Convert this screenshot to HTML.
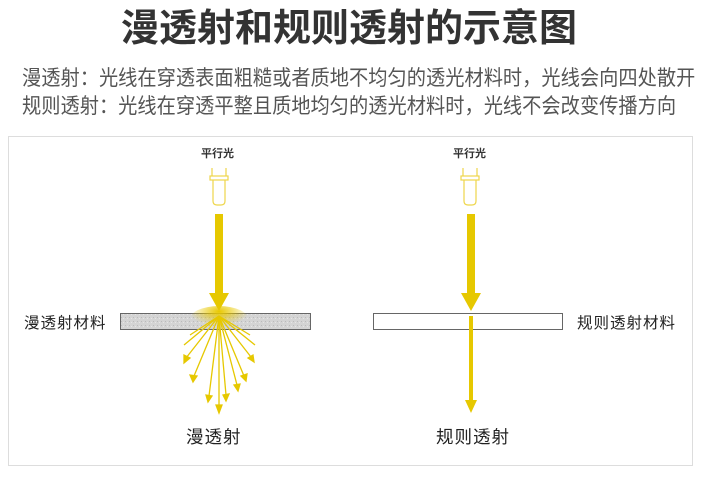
<!DOCTYPE html>
<html><head><meta charset="utf-8"><style>
html,body{margin:0;padding:0;background:#fff;}
body{width:710px;height:483px;position:relative;overflow:hidden;font-family:"Liberation Sans","Noto Sans CJK SC",sans-serif;}
.t{position:absolute;white-space:nowrap;}
.s{transform:scaleX(0.925);transform-origin:0 0;}
</style></head><body>
<div class="t" style="left:0;width:698px;text-align:center;top:6px;font-size:38px;font-weight:bold;color:#333;line-height:46px;">漫透射和规则透射的示意图</div>
<div class="t s" style="left:22px;top:66px;font-size:20.8px;color:#555;line-height:26px;">漫透射：光线在穿透表面粗糙或者质地不均匀的透光材料时，光线会向四处散开</div>
<div class="t s" style="left:22px;top:94px;font-size:20.8px;color:#555;line-height:26px;">规则透射：光线在穿透平整且质地均匀的透光材料时，光线不会改变传播方向</div>
<svg width="710" height="483" style="position:absolute;left:0;top:0" xmlns="http://www.w3.org/2000/svg">
<defs>
<radialGradient id="g" cx="0.5" cy="0.2" r="0.5">
<stop offset="0" stop-color="#e8c800" stop-opacity="1"/>
<stop offset="1" stop-color="#e8c800" stop-opacity="0"/>
</radialGradient>
<pattern id="n" width="4" height="4" patternUnits="userSpaceOnUse">
<rect width="4" height="4" fill="#d4d4d4"/><rect x="1" y="1" width="1" height="1" fill="#bbb"/><rect x="3" y="2" width="1" height="1" fill="#e6e6e6"/>
</pattern>
</defs>
<rect x="8.5" y="136.5" width="684" height="329" fill="none" stroke="#ddd"/>
<g stroke="#eed64a" stroke-width="1.2" fill="none">
<line x1="212" y1="168" x2="212" y2="176"/><line x1="226" y1="168" x2="226" y2="176"/>
<rect x="210" y="176" width="18" height="4"/>
<path d="M213 180 V201 Q213 205 217 205 H221 Q225 205 225 201 V180"/>
<line x1="463" y1="168" x2="463" y2="176"/><line x1="477" y1="168" x2="477" y2="176"/>
<rect x="461" y="176" width="18" height="4"/>
<path d="M464 180 V201 Q464 205 468 205 H472 Q476 205 476 201 V180"/>
</g>
<rect x="215" y="214" width="8" height="80" fill="#e6c800"/>
<polygon points="209,293 229,293 219,311" fill="#e6c800"/>
<rect x="120.5" y="313.5" width="190" height="16" fill="url(#n)" stroke="#666"/>
<ellipse cx="219" cy="320" rx="30" ry="14" fill="url(#g)"/>
<g stroke="#e6c800" stroke-width="1.3" fill="#e6c800">
<line x1="219" y1="316" x2="186" y2="358"/><polygon points="184,363 184,355 190,358"/>
<line x1="219" y1="316" x2="194" y2="376"/><polygon points="193,382 190,375 197,376"/>
<line x1="219" y1="316" x2="209" y2="396"/><polygon points="208,402 206,395 212,396"/>
<line x1="219" y1="316" x2="219" y2="406"/><polygon points="219,413 216,405 222,405"/>
<line x1="219" y1="316" x2="226" y2="395"/><polygon points="226,401 223,395 229,394"/>
<line x1="219" y1="316" x2="237" y2="385"/><polygon points="238,391 234,385 240,384"/>
<line x1="219" y1="316" x2="244" y2="376"/><polygon points="246,381 241,376 247,374"/>
<line x1="219" y1="316" x2="251" y2="357"/><polygon points="254,362 248,358 253,355"/>
<line x1="219" y1="316" x2="184" y2="345"/><line x1="219" y1="316" x2="255" y2="345"/>
<line x1="219" y1="316" x2="190" y2="335"/><line x1="219" y1="316" x2="250" y2="335"/>
</g>
<rect x="467" y="214" width="8" height="80" fill="#e6c800"/>
<polygon points="461,293 481,293 471,311" fill="#e6c800"/>
<rect x="373.5" y="313.5" width="189" height="16" fill="#fff" stroke="#666"/>
<rect x="469" y="316" width="4" height="86" fill="#e6c800"/>
<polygon points="465,400 477,400 471,413" fill="#e6c800"/>
</svg>
<div class="t" style="left:201px;top:145px;font-size:11px;color:#333;font-weight:bold;">平行光</div>
<div class="t" style="left:453px;top:145px;font-size:11px;color:#333;font-weight:bold;">平行光</div>
<div class="t" style="left:24px;top:311px;font-size:15.5px;color:#222;letter-spacing:1px;">漫透射材料</div>
<div class="t" style="left:577px;top:311px;font-size:15.5px;color:#222;letter-spacing:1px;">规则透射材料</div>
<div class="t" style="left:186px;top:424px;font-size:17.5px;color:#222;letter-spacing:1px;">漫透射</div>
<div class="t" style="left:436px;top:424px;font-size:17.5px;color:#222;letter-spacing:1px;">规则透射</div>
</body></html>
